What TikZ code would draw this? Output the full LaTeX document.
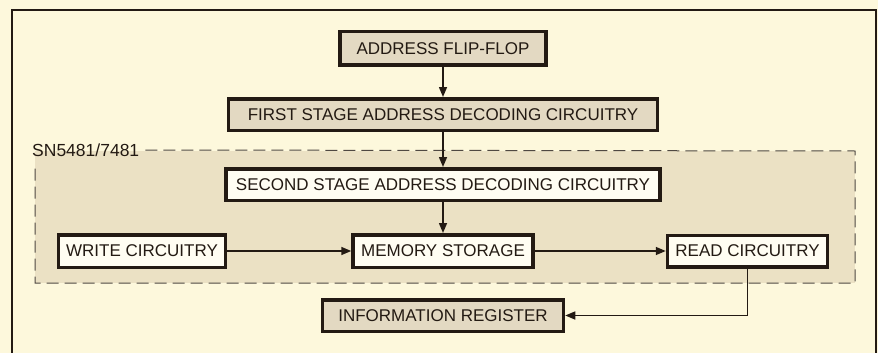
\documentclass[tikz,border=0pt]{standalone}
\usepackage{fontspec}
\setmainfont{Liberation Sans}
\usepackage{tikz}
\usetikzlibrary{positioning,arrows.meta}
\definecolor{paper}{HTML}{FDF8DC}
\definecolor{chipbg}{HTML}{EBE1C4}
\definecolor{ink}{HTML}{231A13}
\definecolor{shade}{HTML}{E3D9C2}
\definecolor{blank}{HTML}{FFFDF2}

\begin{document}
\begin{tikzpicture}[
  x=1pt, y=-1pt,
  font=\fontsize{17}{19}\selectfont,
  box/.style={draw=ink, line width=3.5pt, fill=blank, minimum height=31.5pt, inner sep=0pt, text=ink},
  shadedbox/.style={box, fill=shade},
  arrow/.style={-{Triangle[length=10pt, width=8pt]}, line width=1.5pt, draw=ink}
]
\useasboundingbox (0,0) rectangle (878,353);
\fill[paper] (0,0) rectangle (878,353);
\draw[ink, line width=2pt] (12,353) -- (12,10) -- (876,10) -- (876,353);
\fill[chipbg] (35,151) rectangle (855,283);
\node[anchor=west, inner sep=0pt, text=ink, font=\fontsize{17.5}{19}\selectfont] (chip) at (32,150) {SN5481/7481};
\draw[ink!80, line width=1pt, dash pattern=on 12pt off 6pt] ([xshift=6pt]chip.east) -- (855,151) -- (855,283) -- (35,283) -- (35,163);

\node[shadedbox, minimum width=206pt, minimum height=33.5pt] (ff) at (443,48.5) {ADDRESS FLIP-FLOP};
\node[shadedbox, minimum width=429pt, below=30pt of ff] (first) {FIRST STAGE ADDRESS DECODING CIRCUITRY};
\node[box, minimum width=434pt, below=35pt of first] (second) {SECOND STAGE ADDRESS DECODING CIRCUITRY};
\node[box, minimum width=180pt, minimum height=32.5pt, below=31pt of second] (mem) {MEMORY STORAGE};
\node[box, minimum width=167pt, minimum height=32.5pt, left=124pt of mem] (write) {WRITE CIRCUITRY};
\node[box, minimum width=160pt, right=131pt of mem] (read) {READ CIRCUITRY};
\node[shadedbox, minimum width=241pt, below=29pt of mem] (info) {INFORMATION REGISTER};

\draw[arrow] (ff) -- (first);
\draw[arrow] (first) -- (second);
\draw[arrow] (second) -- (mem);
\draw[arrow] (write) -- (mem);
\draw[arrow] (mem) -- (read);
\draw[arrow] (read.south) |- (info.east);
\end{tikzpicture}
\end{document}
